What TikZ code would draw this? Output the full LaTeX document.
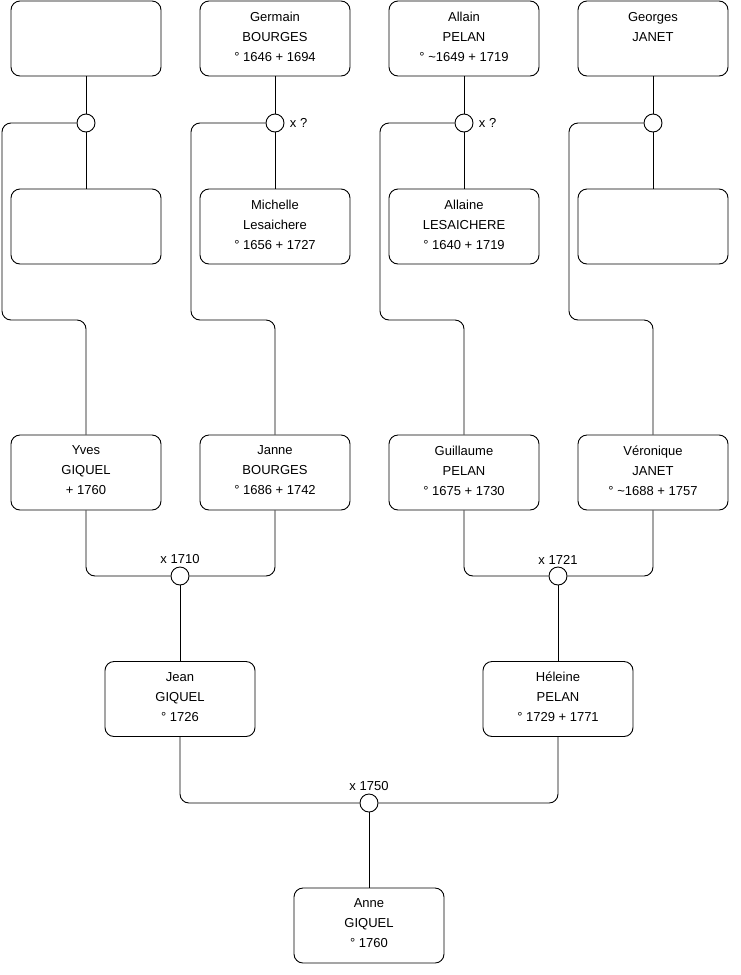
\documentclass[tikz,border=0pt]{standalone}
\usepackage{fontspec}
\setmainfont{Liberation Sans}
\usetikzlibrary{positioning}

\begin{document}
\begin{tikzpicture}[x=1pt, y=-1pt, line width=0.9pt,
    pers/.style={draw, rounded corners=9pt, minimum width=150pt, minimum height=75pt,
      align=center, font=\fontsize{13}{20}\selectfont,
      execute at end node={\rule[-4pt]{0pt}{4pt}}},
    union/.style={draw, circle, fill=white, minimum size=18pt, inner sep=0pt},
    lien/.style={rounded corners=9pt},
    date/.style={font=\fontsize{13}{15}\selectfont, inner sep=2pt}]
    \useasboundingbox (0,0) rectangle (740,975);
    % arriere-grands-parents
    \node[pers] (pereYves) at (86,38.5) {};
    \node[pers] (germain) at (275,38.5) {Germain\\BOURGES\\° 1646 + 1694};
    \node[pers] (allain) at (464,38.5) {Allain\\PELAN\\° \textasciitilde1649 + 1719};
    \node[pers] (georges) at (653,38.5) {Georges\\JANET\\\mbox{}};
    \node[pers] (mereYves) at (86,226.5) {};
    \node[pers] (michelle) at (275,226.5) {Michelle\\Lesaichere\\° 1656 + 1727};
    \node[pers] (allaine) at (464,226.5) {Allaine\\LESAICHERE\\° 1640 + 1719};
    \node[pers] (mereVero) at (653,226.5) {};
    \node[union] (uYves) at (86,123) {};
    \node[union] (uJanne) at (275,123) {};
    \node[union] (uGuil) at (464,123) {};
    \node[union] (uVero) at (653,123) {};
    \node[date, right=3pt of uJanne] (xJanne) {x ?};
    \node[date, right=3pt of uGuil] (xGuil) {x ?};
    \foreach \p/\u/\m in {pereYves/uYves/mereYves, germain/uJanne/michelle,
                          allain/uGuil/allaine, georges/uVero/mereVero}
      \draw (\p) -- (\u) -- (\m);
    % grands-parents
    \node[pers] (yves) at (86,472.5) {Yves\\GIQUEL\\+ 1760};
    \node[pers] (janne) at (275,472.5) {Janne\\BOURGES\\° 1686 + 1742};
    \node[pers] (guillaume) at (464,472.5) {Guillaume\\PELAN\\° 1675 + 1730};
    \node[pers] (veronique) at (653,472.5) {Véronique\\JANET\\° \textasciitilde1688 + 1757};
    \draw[lien] (uYves.west) -| (2,320) -| (yves.north);
    \draw[lien] (uJanne.west) -| (191,320) -| (janne.north);
    \draw[lien] (uGuil.west) -| (380,320) -| (guillaume.north);
    \draw[lien] (uVero.west) -| (569,320) -| (veronique.north);
    \node[union] (uJean) at (180,576) {};
    \node[union] (uHel) at (558,576) {};
    \node[date, above=0pt of uJean] (xJean) {x 1710};
    \node[date, above=0pt of uHel] (xHel) {x 1721};
    \draw[lien] (yves.south) |- (uJean.west);
    \draw[lien] (janne.south) |- (uJean.east);
    \draw[lien] (guillaume.south) |- (uHel.west);
    \draw[lien] (veronique.south) |- (uHel.east);
    % parents
    \node[pers] (jean) at (180,699) {Jean\\GIQUEL\\° 1726};
    \node[pers] (heleine) at (558,699) {Héleine\\PELAN\\° 1729 + 1771};
    \draw (uJean) -- (jean);
    \draw (uHel) -- (heleine);
    \node[union] (uAnne) at (369,803) {};
    \node[date, above=0pt of uAnne] (xAnne) {x 1750};
    \draw[lien] (jean.south) |- (uAnne.west);
    \draw[lien] (heleine.south) |- (uAnne.east);
    \node[pers] (anne) at (369,925.5) {Anne\\GIQUEL\\° 1760};
    \draw (uAnne) -- (anne);
\end{tikzpicture}
\end{document}
